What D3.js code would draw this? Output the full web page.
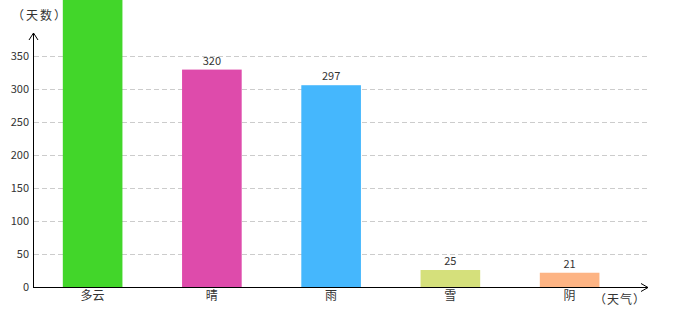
<!DOCTYPE html>
<html><head><meta charset="utf-8">
<script src="https://cdn.jsdelivr.net/npm/d3@7"></script>
<style>body{margin:0;background:#fff}svg{display:block}text{font-family:"Noto Sans CJK SC","DejaVu Sans",sans-serif}</style>
</head><body><svg id="c" width="680" height="320"></svg>
<script>
const categories = ["多云","晴","雨","雪","阴"];
const values = [450, 320, 297, 25, 21];
const colors = ["#42d62a","#de4bab","#45b7fd","#d5e07b","#fdb484"];
const yTicks = [0,50,100,150,200,250,300,350];
const yTitle = "（天数）";
const xTitle = "（天气）";

const svg = d3.select("#c");
const x0 = 33, y0 = 287;
const x = d3.scaleBand().domain(categories).range([x0, 629.25]).paddingInner(0.5).paddingOuter(0.25);
const y = d3.scaleLinear().domain([0,350]).range([y0, 56]);
const yBar = d3.scaleLinear().domain([0,340]).range([y0, 56]);

// grid
svg.append("g").selectAll("line").data(yTicks.filter(d=>d>0)).join("line")
  .attr("x1", x0+1).attr("x2", 647).attr("y1", d=>Math.round(y(d))+0.5).attr("y2", d=>Math.round(y(d))+0.5)
  .attr("stroke", "#cccccc").attr("stroke-dasharray","5,3");

// y tick labels
svg.append("g").selectAll("text").data(yTicks).join("text")
  .attr("x", 29).attr("y", d=>Math.round(y(d))+4).attr("text-anchor","end")
  .attr("font-size", 11).attr("fill","#333").text(d=>d);

// bars
svg.append("g").selectAll("rect").data(values).join("rect")
  .attr("x", (d,i)=>x(categories[i])).attr("width", x.bandwidth())
  .attr("y", d=>yBar(d)).attr("height", d=>y0-yBar(d))
  .attr("fill", (d,i)=>colors[i]);

// value labels (only those that fall inside the picture)
svg.append("g").selectAll("text").data(values.map((v,i)=>({v,i})).filter(o=>yBar(o.v)-5>12)).join("text")
  .attr("x", o=>x(categories[o.i])+x.bandwidth()/2).attr("y", o=>yBar(o.v)-5)
  .attr("text-anchor","middle").attr("font-size", 11).attr("fill","#333").text(o=>o.v);

// category labels
svg.append("g").selectAll("text").data(categories).join("text")
  .attr("x", d=>x(d)+x.bandwidth()/2).attr("y", 300)
  .attr("text-anchor","middle").attr("font-size", 12).attr("fill","#333").text(d=>d);

// axes
svg.append("line").attr("x1", x0+0.5).attr("x2", x0+0.5).attr("y1", 33).attr("y2", y0+0.5).attr("stroke","#000");
svg.append("line").attr("x1", x0).attr("x2", 648).attr("y1", y0+0.5).attr("y2", y0+0.5).attr("stroke","#000");
svg.append("path").attr("d", `M${x0-4},${40} L${x0+0.5},${33} L${x0+5},${40}`).attr("fill","none").attr("stroke","#000");
svg.append("path").attr("d", `M641,${y0-3.5} L648,${y0+0.5} L641,${y0+4.5}`).attr("fill","none").attr("stroke","#000");

svg.append("text").attr("x", 12).attr("y", 20).attr("font-size", 12).attr("letter-spacing", 2).attr("fill","#333").text(yTitle);
svg.append("text").attr("x", 594).attr("y", 304).attr("font-size", 12).attr("letter-spacing", 1).attr("fill","#333").text(xTitle);
</script></body></html>
